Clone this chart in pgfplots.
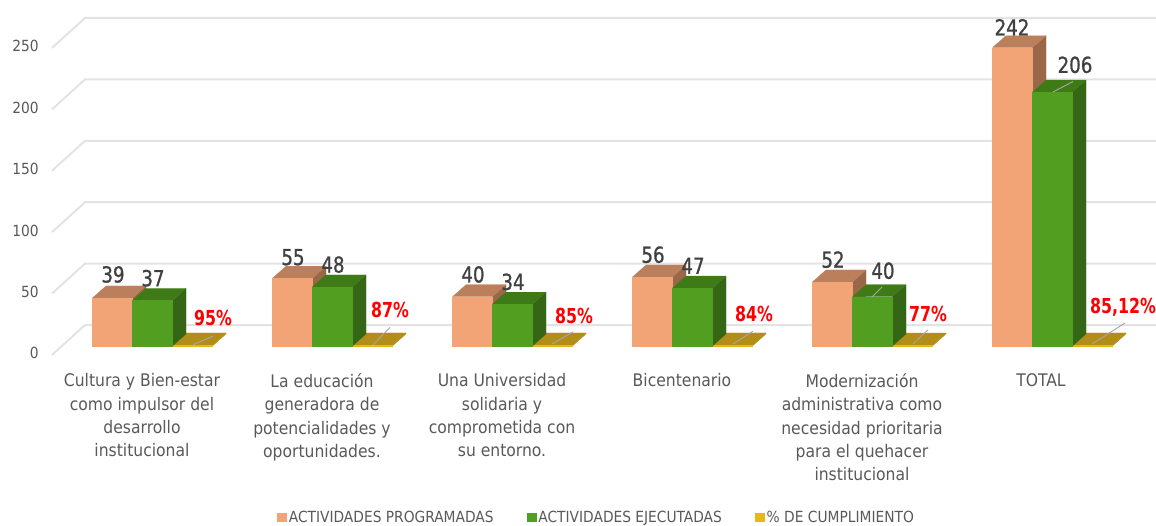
\documentclass[border=0pt]{standalone}
\usepackage{fontspec}
\usepackage{pgfplots}
\pgfplotsset{compat=1.18}
\setmainfont{DejaVu Sans Condensed}
\newfontfamily\valfont[FakeBold=1,FakeStretch=0.92]{DejaVu Sans Condensed}
\newfontfamily\pctfont[FakeStretch=0.85]{DejaVu Sans Condensed Bold}
\definecolor{pinkF}{HTML}{F2A477}
\definecolor{pinkT}{HTML}{BC7F5C}
\definecolor{pinkS}{HTML}{9A6848}
\definecolor{greenF}{HTML}{519E20}
\definecolor{greenT}{HTML}{3E7B17}
\definecolor{greenS}{HTML}{346615}
\definecolor{goldF}{HTML}{E8B818}
\definecolor{goldT}{HTML}{B28E18}
\definecolor{gridc}{HTML}{E3E3E3}
\definecolor{txt}{HTML}{595959}
\definecolor{val}{HTML}{404040}

% one 3D box: left x, value, front/top/side colours
\newcommand{\onebox}[5]{%
  \pgfmathsetmacro\xa{#1}\pgfmathsetmacro\xb{#1+40}%
  \pgfmathsetmacro\xc{#1+13.5}\pgfmathsetmacro\xd{#1+53.5}%
  \pgfmathsetmacro\yt{#2+9.7}%
  \addplot[fill=#5,draw=#5,line width=0.1pt,forget plot] coordinates {(\xb,0)(\xd,9.7)(\xd,\yt)(\xb,#2)} --cycle;
  \addplot[fill=#4,draw=#4,line width=0.1pt,forget plot] coordinates {(\xa,#2)(\xb,#2)(\xd,\yt)(\xc,\yt)} --cycle;
  \addplot[fill=#3,draw=#3,line width=0.1pt,forget plot] coordinates {(\xa,0)(\xb,0)(\xb,#2)(\xa,#2)} --cycle;
}
% one group: left x, programadas, ejecutadas, cumplimiento
\newcommand{\grp}[4]{%
  \pgfmathsetmacro\xg{#1+80}%
  \onebox{\xg}{#4}{goldF}{goldT}{goldT}
  \onebox{#1}{#2}{pinkF}{pinkT}{pinkS}
  \pgfmathsetmacro\xh{#1+40}%
  \onebox{\xh}{#3}{greenF}{greenT}{greenS}
}
\newcommand{\gl}[2]{\addplot[gridc,line width=1.5pt,forget plot] coordinates {(52,#1)(85,#2)(1156,#2)};}
\newcommand{\lead}[4]{\addplot[gray!70,line width=0.7pt,forget plot] coordinates {(#1,#2)(#3,#4)};}
\newcommand{\vlab}[3]{\node[font=\fontsize{16.5}{16.5}\valfont,text=val] at (axis cs:#1,#2) {#3};}
\newcommand{\plab}[3]{\node[font=\fontsize{15.5}{16}\pctfont,text=red] at (axis cs:#1,#2) {#3};}

\begin{document}
\begin{tikzpicture}
\useasboundingbox (0,0) rectangle (867pt,393.75pt);
\begin{axis}[
  at={(0,0)}, anchor=south west,
  scale only axis, width=867pt, height=393.75pt,
  xmin=0, xmax=1156, ymin=-145.2, ymax=280.6,
  clip=false,
  axis line style={draw=none},
  major tick style={draw=none},
  xtick={142,322,502,682,862,1041},
  xticklabels={
    {Cultura y Bien-estar\\como impulsor del\\desarrollo\\institucional},
    {La educación\\generadora de\\potencialidades y\\oportunidades.},
    {Una Universidad\\solidaria y\\comprometida con\\su entorno.},
    {Bicentenario},
    {Modernización\\administrativa como\\necesidad prioritaria\\para el quehacer\\institucional},
    {TOTAL}},
  xticklabel style={align=center,anchor=north,yshift=117pt,text=txt,
    font=\fontsize{13}{17.5}\selectfont},
  ytick={-6,43.8,93.6,143.4,193.2,243},
  yticklabels={0,50,100,150,200,250},
  yticklabel style={anchor=east,xshift=32.5pt,text=txt,font=\fontsize{11.5}{13}\selectfont},
  legend style={at={(axis cs:597,-139)},anchor=center,draw=none,fill=none,
    legend columns=3,text=txt,font=\fontsize{11.5}{13}\selectfont,
    /tikz/every even column/.append style={column sep=23pt},
    inner sep=0pt},
]
\addlegendimage{only marks,mark=square*,mark size=3.3pt,pinkF}
\addlegendentry{ACTIVIDADES PROGRAMADAS}
\addlegendimage{only marks,mark=square*,mark size=3.3pt,greenF}
\addlegendentry{ACTIVIDADES EJECUTADAS}
\addlegendimage{only marks,mark=square*,mark size=3.3pt,goldF}
\addlegendentry{\% DE CUMPLIMIENTO}

\gl{-7.3}{17}
\gl{42.5}{66.8}
\gl{92.3}{116.6}
\gl{142.1}{166.4}
\gl{191.9}{216.2}
\gl{241.7}{266}

\grp{92.5}{39}{37}{0.95}
\grp{272.5}{55}{48}{0.87}
\grp{452.5}{40}{34}{0.85}
\grp{632.5}{56}{47}{0.84}
\grp{812.5}{52}{40}{0.77}
\grp{992.5}{242}{206}{0.8512}

\lead{193}{1}{213}{8}
\lead{373}{1}{390}{15}
\lead{552}{1.6}{573}{11.5}
\lead{733}{1.6}{753}{12}
\lead{913}{1.6}{928}{13}
\lead{1092}{1.6}{1125}{18.6}
\lead{1053}{206}{1073}{214.5}
\lead{872}{39.7}{882}{47.9}

\vlab{113}{58}{39}
\vlab{153}{55}{37}
\vlab{293}{72}{55}
\vlab{333}{66}{48}
\vlab{473}{58}{40}
\vlab{513}{52}{34}
\vlab{653}{74}{56}
\vlab{693}{65}{47}
\vlab{833}{70}{52}
\vlab{883}{61}{40}
\vlab{1012}{258.5}{242}
\vlab{1075}{228}{206}
\plab{213}{23}{95\%}
\plab{390}{29.5}{87\%}
\plab{574}{24.5}{85\%}
\plab{754}{26}{84\%}
\plab{928}{26}{77\%}
\plab{1123}{31}{85,12\%}
\end{axis}
\end{tikzpicture}
\end{document}
